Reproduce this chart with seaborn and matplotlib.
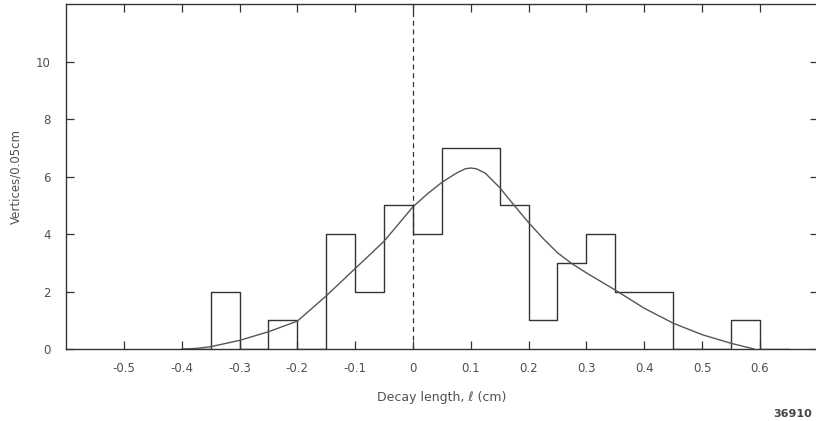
import seaborn as sns
import matplotlib.pyplot as plt
from matplotlib.ticker import FixedLocator, FixedFormatter

# histogram: bin edges (cm) and vertex counts per 0.05 cm bin
bin_edges = [-0.40, -0.35, -0.30, -0.25, -0.20, -0.15, -0.10, -0.05, 0.00,
             0.05, 0.10, 0.15, 0.20, 0.25, 0.30, 0.35, 0.40, 0.45, 0.50,
             0.55, 0.60, 0.65]
counts = [0, 2, 0, 1, 0, 4, 2, 5, 4, 7, 7, 5, 1, 3, 4, 2, 2, 0, 0, 1, 0]

# fitted lifetime curve
fit_x = [-0.40, -0.375, -0.35, -0.30, -0.25, -0.20, -0.15, -0.10, -0.05,
         0.00, 0.025, 0.05, 0.075, 0.09, 0.10, 0.11, 0.125, 0.15, 0.175,
         0.20, 0.225, 0.25, 0.275, 0.30, 0.35, 0.40, 0.45, 0.50, 0.55, 0.59]
fit_y = [0.0, 0.02, 0.08, 0.3, 0.6, 0.97, 1.85, 2.8, 3.75,
         4.95, 5.4, 5.8, 6.12, 6.27, 6.3, 6.27, 6.12, 5.62, 5.0,
         4.4, 3.85, 3.35, 2.97, 2.65, 2.05, 1.42, 0.9, 0.5, 0.2, 0.0]

x_ticks = [-0.5, -0.4, -0.3, -0.2, -0.1, 0, 0.1, 0.2, 0.3, 0.4, 0.5, 0.6]
x_labels = ['-0.5', '-0.4', '-0.3', '-0.2', '-0.1', '0', '0.1', '0.2',
            '0.3', '0.4', '0.5', '0.6']
y_ticks = [0, 2, 4, 6, 8, 10]
y_labels = ['0', '2', '4', '6', '8', '10']

sns.set_style("ticks")
plt.rcParams['font.family'] = ['DejaVu Sans']
plt.rcParams['axes.unicode_minus'] = False

ink = '#333333'
txt = '#505050'

fig = plt.figure(figsize=(8.16, 4.21), dpi=100)
ax = fig.add_axes([0.081, 0.171, 0.921, 0.819])

centers = [(a + b) / 2 for a, b in zip(bin_edges[:-1], bin_edges[1:])]
sns.histplot(x=centers, weights=counts, bins=bin_edges, element='step',
             fill=False, color=ink, linewidth=1.0, ax=ax)
sns.lineplot(x=fit_x, y=fit_y, color='#555555', linewidth=1.0, ax=ax)
ax.axvline(0, color=ink, linestyle=(0, (4, 3)), linewidth=0.9)

ax.set_xlim(-0.6, 0.7)
ax.set_ylim(0, 12)

ax.xaxis.set_major_locator(FixedLocator(x_ticks))
ax.xaxis.set_major_formatter(FixedFormatter(x_labels))
ax.yaxis.set_major_locator(FixedLocator(y_ticks))
ax.yaxis.set_major_formatter(FixedFormatter(y_labels))
ax.tick_params(direction='in', length=6, width=0.9, color=ink,
               labelsize=8.5, labelcolor=txt, top=True, right=True,
               pad=9)
ax.tick_params(axis='y', pad=11)
for s in ax.spines.values():
    s.set_color(ink)
    s.set_linewidth(1.0)

ax.set_xlabel('Decay length, ℓ (cm)', fontsize=9, color=txt, labelpad=12)
ax.set_ylabel('Vertices/0.05cm', fontsize=8.5, color=txt, labelpad=10)

fig.text(0.995, 0.005, '36910', ha='right', va='bottom', fontsize=8,
         fontweight='bold', color='#444444')

fig.savefig('out.png', dpi=100)
